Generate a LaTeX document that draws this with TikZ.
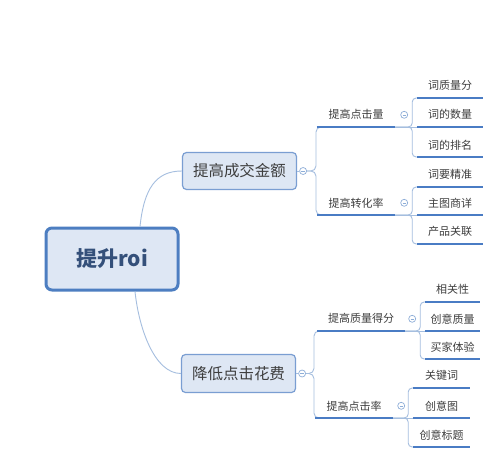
\documentclass[tikz,border=0pt]{standalone}
\usepackage{fontspec}
\setmainfont{Noto Sans CJK SC}
\definecolor{linkblue}{HTML}{A5BEDF}
\definecolor{lineblue}{HTML}{4A7CC4}
\definecolor{knobblue}{HTML}{8EAED8}
\definecolor{boxfill}{HTML}{DEE7F4}
\definecolor{rootedge}{HTML}{4D7EC1}
\definecolor{boxedge}{HTML}{7A9ED2}
\definecolor{txt}{HTML}{3E3E3E}
\definecolor{roottxt}{HTML}{34507A}
\tikzset{
	conn/.style={draw=linkblue,line width=0.9pt},
	uline/.style={draw=lineblue,line width=2.2pt},
	topic/.style={minimum height=24pt,inner sep=0pt,anchor=south,text=txt,
		font=\fontsize{11}{13}\selectfont},
	knob/.style={circle,draw=knobblue,fill=white,line width=0.7pt,minimum size=7pt,
		inner sep=0pt,path picture={\draw[knobblue,line width=0.6pt]
		([xshift=-1.7pt]path picture bounding box.center) --
		([xshift=1.7pt]path picture bounding box.center);}}
}

\begin{document}
\begin{tikzpicture}[x=1pt,y=-1pt]
			\path[fill=white] (0,0) rectangle (491,469);
			\node[draw=rootedge,fill=boxfill,line width=3pt,rounded corners=6pt,
				minimum width=132pt,minimum height=62pt,text=roottxt,
				font=\fontsize{21}{24}\selectfont\bfseries] (root) at (112,259) {提升roi};
			\node[draw=boxedge,fill=boxfill,line width=1.2pt,rounded corners=4pt,
				minimum width=114pt,minimum height=37pt,text=txt,
				font=\fontsize{15.5}{18}\selectfont] (deal) at (239.5,171) {提高成交金额};
			\node[draw=boxedge,fill=boxfill,line width=1.2pt,rounded corners=4pt,
				minimum width=114pt,minimum height=38pt,text=txt,
				font=\fontsize{15.5}{18}\selectfont] (cost) at (238.5,373.5) {降低点击花费};
			\draw[conn] ([xshift=28pt]root.north) .. controls +(4,-38) and +(-26,0) .. (deal.west);
			\draw[conn] ([xshift=23pt]root.south) .. controls +(4,38) and +(-26,0) .. (cost.west);
			\node[knob] (kdeal) at ([xshift=6pt]deal.east) {};
			\node[knob] (kcost) at ([xshift=6pt]cost.east) {};
			\draw[conn] (deal.east) -- (kdeal.west);
			\draw[conn] (cost.east) -- (kcost.west);

			\node[topic,minimum width=78pt] (clicks) at (356,127) {提高点击量};
			\node[topic,minimum width=78pt] (convert) at (356,215) {提高转化率};
			\node[topic,minimum width=88pt] (quality) at (361,331) {提高质量得分};
			\node[topic,minimum width=78pt] (ctr) at (354,418) {提高点击率};
			\node[knob] (kclicks) at ([xshift=9pt]clicks.east) {};
			\node[knob] (kconvert) at ([xshift=9pt]convert.east) {};
			\node[knob] (kquality) at ([xshift=7pt]quality.east) {};
			\node[knob] (kctr) at ([xshift=8pt]ctr.east) {};

			\node[topic,minimum width=66pt] (w1) at (450,98) {词质量分};
			\node[topic,minimum width=66pt] (w2) at (450,127) {词的数量};
			\node[topic,minimum width=66pt] (w3) at (450,157) {词的排名};
			\node[topic,minimum width=66pt] (v1) at (450,187) {词要精准};
			\node[topic,minimum width=66pt] (v2) at (450,215) {主图商详};
			\node[topic,minimum width=66pt] (v3) at (450,244) {产品关联};
			\node[topic,minimum width=55pt] (q1) at (452.5,302) {相关性};
			\node[topic,minimum width=55pt] (q2) at (452.5,331) {创意质量};
			\node[topic,minimum width=55pt] (q3) at (452.5,359) {买家体验};
			\node[topic,minimum width=57pt] (r1) at (441.5,388) {关键词};
			\node[topic,minimum width=57pt] (r2) at (441.5,418) {创意图};
			\node[topic,minimum width=57pt] (r3) at (441.5,447) {创意标题};

			\draw[conn,rounded corners=5pt] (kdeal.east) -- ++(9,0) |- ([xshift=8pt]clicks.south west);
			\draw[conn,rounded corners=5pt] (kdeal.east) -- ++(9,0) |- ([xshift=8pt]convert.south west);
			\draw[conn,rounded corners=5pt] (kcost.east) -- ++(8,0) |- ([xshift=8pt]quality.south west);
			\draw[conn,rounded corners=5pt] (kcost.east) -- ++(8,0) |- ([xshift=8pt]ctr.south west);

			\draw[conn] (clicks.south east) -- (w2.south west);
			\draw[conn,rounded corners=4pt] (clicks.south east) -- ++(17,0) |- ([xshift=6pt]w1.south west);
			\draw[conn,rounded corners=4pt] (clicks.south east) -- ++(17,0) |- ([xshift=6pt]w3.south west);
			\draw[conn] (convert.south east) -- (v2.south west);
			\draw[conn,rounded corners=4pt] (convert.south east) -- ++(17,0) |- ([xshift=6pt]v1.south west);
			\draw[conn,rounded corners=4pt] (convert.south east) -- ++(17,0) |- ([xshift=6pt]v3.south west);
			\draw[conn] (quality.south east) -- (q2.south west);
			\draw[conn,rounded corners=4pt] (quality.south east) -- ++(15,0) |- ([xshift=6pt]q1.south west);
			\draw[conn,rounded corners=4pt] (quality.south east) -- ++(15,0) |- ([xshift=6pt]q3.south west);
			\draw[conn] (ctr.south east) -- (r2.south west);
			\draw[conn,rounded corners=4pt] (ctr.south east) -- ++(15,0) |- ([xshift=6pt]r1.south west);
			\draw[conn,rounded corners=4pt] (ctr.south east) -- ++(15,0) |- ([xshift=6pt]r3.south west);

			\foreach \n in {clicks,convert,quality,ctr,w1,w2,w3,v1,v2,v3,q1,q2,q3,r1,r2,r3}
				\draw[uline] (\n.south west) -- (\n.south east);
\end{tikzpicture}
\end{document}
